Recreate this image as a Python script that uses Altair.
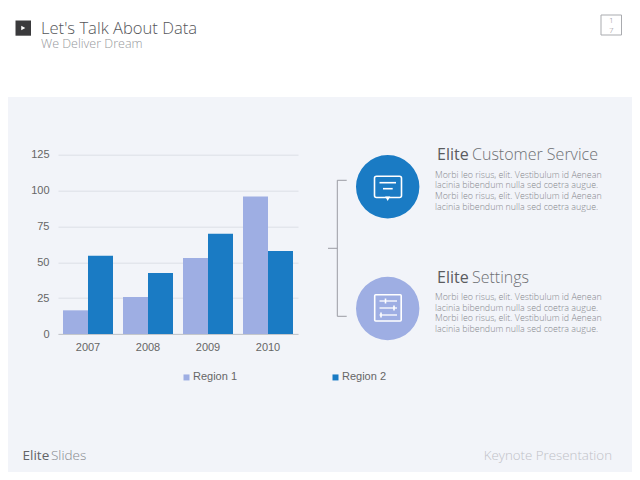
import altair as alt

years = ["2007", "2008", "2009", "2010"]
region_1 = [16.5, 25.8, 53, 95.9]
region_2 = [54.5, 42.5, 69.9, 57.8]
y_ticks = [0, 25, 50, 75, 100, 125]
regions = ["Region 1", "Region 2"]
body_lines = [
    "Morbi leo risus, elit. Vestibulum id Aenean",
    "lacinia bibendum nulla sed coetra augue.",
    "Morbi leo risus, elit. Vestibulum id Aenean",
    "lacinia bibendum nulla sed coetra augue.",
]

PANEL = "#f2f4f9"
C1 = "#9eaee3"
C2 = "#1a7bc4"
SANS = "Open Sans"
LEFT, TOP = 58.0, 154.7   # page pixel position of the plot area
W, H = 240, 179.3
ONE = alt.Data(values=[{"a": 1}])


def X(p):
    return alt.value(p - LEFT)


def Y(p):
    return alt.value(p - TOP)


def text(s, x, y, size, color, weight=300, align="left", font=SANS):
    return alt.Chart(alt.Data(values=[{"t": s}])).mark_text(
        fontSize=size, color=color, fontWeight=weight, align=align,
        baseline="alphabetic", font=font,
    ).encode(text="t:N", x=X(x), y=Y(y))


def line(x1, y1, x2, y2, color="#9a9ca3", w=1.0):
    return alt.Chart(ONE).mark_rule(color=color, strokeWidth=w).encode(
        x=X(x1), x2=X(x2), y=Y(y1), y2=Y(y2))


def rect(x1, y1, x2, y2, **kw):
    return alt.Chart(ONE).mark_rect(**kw).encode(x=X(x1), x2=X(x2), y=Y(y1), y2=Y(y2))


def dot(x, y, size, color):
    return alt.Chart(ONE).mark_circle(size=size, color=color, opacity=1).encode(x=X(x), y=Y(y))


def tri(x, y, size, shape, color):
    return alt.Chart(ONE).mark_point(shape=shape, size=size, fill=color, color=color,
                                     filled=True, opacity=1).encode(x=X(x), y=Y(y))


rows = []
for i, yr in enumerate(years):
    rows.append({"year": yr, "region": regions[0], "value": region_1[i]})
    rows.append({"year": yr, "region": regions[1], "value": region_2[i]})

bars = alt.Chart(alt.Data(values=rows)).mark_bar().encode(
    x=alt.X("year:N", title=None,
            scale=alt.Scale(paddingInner=1 / 6, paddingOuter=1 / 12),
            axis=alt.Axis(labelAngle=0, ticks=False, domainColor="#c4c7cc", grid=False,
                          labelPadding=7, labelFont="Liberation Sans", labelFontSize=11,
                          labelColor="#666666")),
    xOffset=alt.XOffset("region:N", sort=regions, scale=alt.Scale(paddingInner=0, paddingOuter=0)),
    y=alt.Y("value:Q", title=None,
            scale=alt.Scale(domain=[0, 125], nice=False),
            axis=alt.Axis(values=y_ticks, ticks=False, domain=False, grid=True,
                          gridColor="#dcdfe6", labelPadding=9, labelFont="Liberation Sans",
                          labelFontSize=11, labelColor="#666666")),
    color=alt.Color("region:N", sort=regions,
                    scale=alt.Scale(domain=regions, range=[C1, C2]),
                    legend=alt.Legend(title=None, orient="none", legendX=123, legendY=217,
                                      direction="horizontal", columns=2, columnPadding=92,
                                      symbolType="square", symbolSize=36, symbolStrokeWidth=0,
                                      labelFont="Liberation Sans", labelFontSize=11,
                                      labelColor="#666666", labelOffset=1)),
)

layers = [
    bars,
    rect(0, 0, 640, 97, color="#ffffff"),
    # header
    rect(15.5, 20.5, 31, 35.7, color="#3a3a3c"),
    tri(23.3, 28, 22, "triangle-right", "#ffffff"),
    text("Let's Talk About Data", 41, 33.5, 16.6, "#55565a"),
    text("We Deliver Dream", 41, 48, 12.5, "#97999d"),
    rect(601, 15, 621.5, 35, fill="none", stroke="#a9abaf", strokeWidth=1),
    text("1", 611.2, 23, 8, "#8a8c90", align="center"),
    text("7", 611.2, 33, 8, "#8a8c90", align="center"),
    # bracket
    line(337.3, 180.3, 337.3, 316.3),
    line(337.3, 180.3, 346.7, 180.3),
    line(337.3, 316.3, 346.7, 316.3),
    line(328, 248.3, 337.3, 248.3),
    # circles
    dot(387.7, 186.8, 4020, C2),
    dot(387.7, 308.5, 4020, C1),
    # chat icon
    rect(374.5, 176.3, 401.5, 197.5, fill="none", stroke="#ffffff", strokeWidth=1.6, cornerRadius=2),
    tri(387.7, 198.7, 26, "triangle-down", "#ffffff"),
    line(379.5, 182.7, 396, 182.7, "#ffffff", 1.6),
    line(383, 188.7, 392.7, 188.7, "#ffffff", 1.6),
    # settings icon
    rect(374.7, 294.7, 401.2, 321, fill="none", stroke="#ffffff", strokeWidth=1.6, cornerRadius=1),
    line(379.5, 301, 397, 301, "#ffffff", 1.3),
    line(379.5, 308, 397, 308, "#ffffff", 1.3),
    line(379.5, 315, 397, 315, "#ffffff", 1.3),
    line(385.5, 298.5, 385.5, 303.5, "#ffffff", 1.6),
    line(394, 305.5, 394, 310.5, "#ffffff", 1.6),
    line(381, 312.5, 381, 317.5, "#ffffff", 1.6),
    # service text
    text("Elite", 437, 160, 16, "#5a5b5f", weight=400),
    text("Customer Service", 472, 160, 16, "#6e7074"),
    text("Elite", 437, 282.5, 16, "#5a5b5f", weight=400),
    text("Settings", 472, 282.5, 16, "#6e7074"),
    # footer
    text("Elite", 22.5, 460, 13.5, "#636468", weight=400),
    text("Slides", 51, 460, 13.5, "#85878c"),
    text("Keynote Presentation", 612, 460, 13.3, "#bfc1c7", align="right"),
]
for i, s in enumerate(body_lines):
    layers.append(text(s, 435, 177.5 + i * 10.7, 8.9, "#86888d"))
    layers.append(text(s, 435, 300 + i * 10.7, 8.9, "#86888d"))

chart = alt.layer(*layers).properties(
    width=W, height=H, background=PANEL,
    padding={"left": LEFT - 8, "top": TOP - 8, "right": 624 - (LEFT - 8) - W, "bottom": 464 - (TOP - 8) - H},
    autosize=alt.AutoSizeParams(type="none"),
).configure_view(stroke=None)

chart.save("out.html", embed_options={"renderer": "svg", "actions": False})
